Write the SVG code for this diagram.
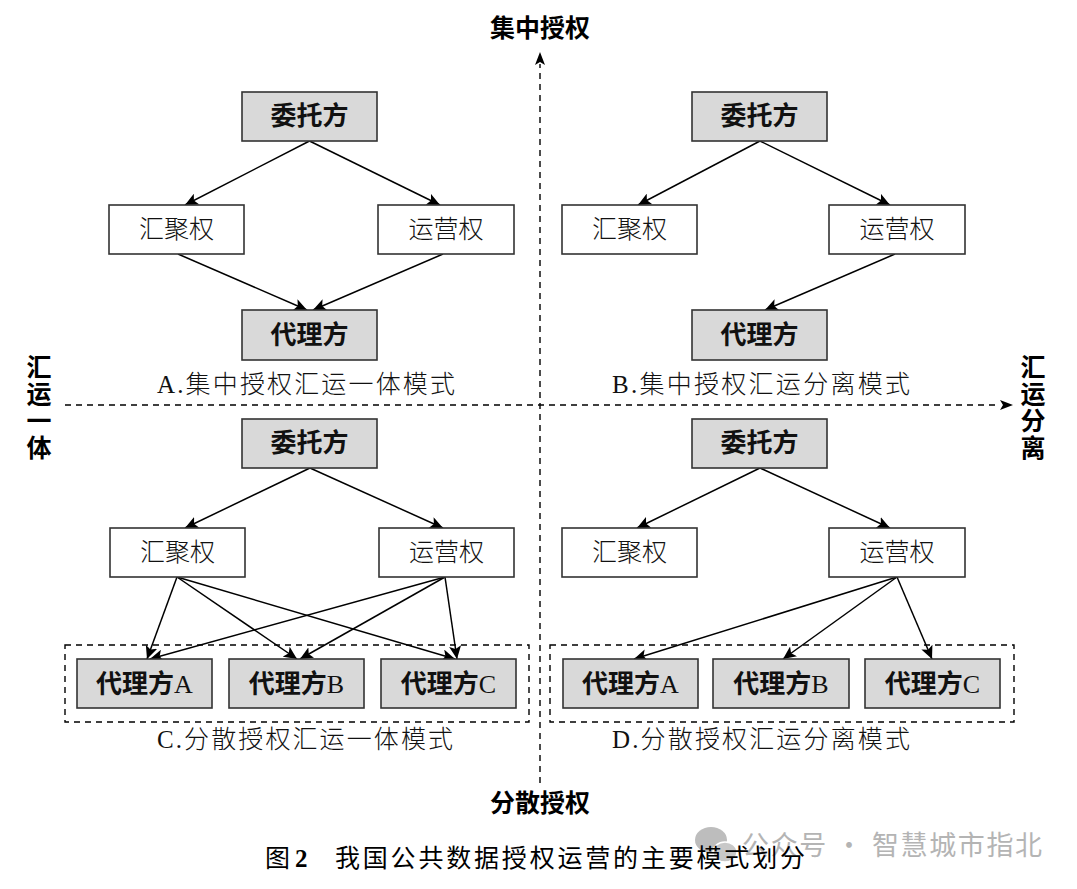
<svg xmlns="http://www.w3.org/2000/svg" width="1077" height="889" viewBox="0 0 1077 889">
<defs>
<marker id="ah" markerUnits="userSpaceOnUse" markerWidth="14" markerHeight="12" viewBox="0 0 14 12" refX="13" refY="6" orient="auto">
<path d="M0,0 L13,6 L0,12 L3,6 Z" fill="#000"/>
</marker>
</defs>
<style>
.g{fill:#d9d9d9;stroke:#333;stroke-width:1.6}
.w{fill:#fff;stroke:#333;stroke-width:1.6}
.bt{font-family:"Liberation Serif","Noto Sans CJK SC",sans-serif;font-weight:700;font-size:26px;text-anchor:middle;fill:#111}
.lat{font-weight:400}
.wt{font-family:"Noto Sans CJK SC",sans-serif;font-weight:300;font-size:25px;text-anchor:middle;fill:#111}
.lb{font-family:"Liberation Serif","Noto Sans CJK SC",serif;font-weight:300;font-size:25px;fill:#111}
.ax{font-family:"Noto Sans CJK SC",sans-serif;font-weight:700;font-size:25px;text-anchor:middle;fill:#000}
.axv{font-family:"Noto Sans CJK SC",sans-serif;font-weight:700;font-size:25px;fill:#000;writing-mode:vertical-rl;letter-spacing:2px}
.cn line{stroke:#000;stroke-width:1.5;marker-end:url(#ah)}
.dash{fill:none;stroke:#000;stroke-width:1.4;stroke-dasharray:6 5}
</style>
<rect width="1077" height="889" fill="#fff"/>

<g id="axes">
<line class="dash" x1="540" y1="783" x2="540" y2="64"/>
<path d="M540,52 L545,65 L540,62 L535,65 Z" fill="#000"/>
<line class="dash" x1="65" y1="405" x2="1000" y2="405"/>
<path d="M1013,405 L1000,400 L1003,405 L1000,410 Z" fill="#000"/>
<text class="ax" x="540" y="37">集中授权</text>
<text class="ax" x="540" y="812">分散授权</text>
<text class="axv" x="39" y="354">汇运一体</text>
<text class="axv" x="1033" y="354">汇运分离</text>
</g>

<g id="connectors" class="cn">
<line x1="309.5" y1="141" x2="185" y2="205"/>
<line x1="309.5" y1="141" x2="440" y2="205"/>
<line x1="178" y1="254" x2="307" y2="310"/>
<line x1="443" y1="254" x2="313" y2="310"/>
<line x1="760" y1="141" x2="638" y2="205"/>
<line x1="760" y1="141" x2="890" y2="205"/>
<line x1="895" y1="254" x2="765" y2="310"/>
<line x1="310" y1="468" x2="185" y2="528"/>
<line x1="310" y1="468" x2="443" y2="528"/>
<line x1="177" y1="577" x2="147" y2="659"/>
<line x1="177" y1="577" x2="297" y2="659"/>
<line x1="177" y1="577" x2="455" y2="659"/>
<line x1="445" y1="577" x2="150" y2="659"/>
<line x1="445" y1="577" x2="300" y2="659"/>
<line x1="445" y1="577" x2="457" y2="659"/>
<line x1="760" y1="468" x2="637" y2="528"/>
<line x1="760" y1="468" x2="890" y2="528"/>
<line x1="897" y1="577" x2="634" y2="659"/>
<line x1="897" y1="577" x2="783" y2="659"/>
<line x1="897" y1="577" x2="932" y2="659"/>
</g>

<g id="A-wtf"><rect class="g" x="242" y="92" width="135" height="49"/><text class="bt" x="309.5" y="125">委托方</text></g>
<g id="A-hj"><rect class="w" x="109" y="205" width="135" height="49"/><text class="wt" x="176.5" y="238">汇聚权</text></g>
<g id="A-yy"><rect class="w" x="378" y="205" width="136" height="49"/><text class="wt" x="446" y="238">运营权</text></g>
<g id="A-dl"><rect class="g" x="242" y="310" width="135" height="50"/><text class="bt" x="309.5" y="344">代理方</text></g>
<text class="lb" x="157" y="393" textLength="298" lengthAdjust="spacing">A.集中授权汇运一体模式</text>

<g id="B-wtf"><rect class="g" x="692" y="92" width="135" height="49"/><text class="bt" x="759.5" y="125">委托方</text></g>
<g id="B-hj"><rect class="w" x="562" y="205" width="135" height="49"/><text class="wt" x="629.5" y="238">汇聚权</text></g>
<g id="B-yy"><rect class="w" x="829" y="205" width="136" height="49"/><text class="wt" x="897" y="238">运营权</text></g>
<g id="B-dl"><rect class="g" x="692" y="310" width="135" height="50"/><text class="bt" x="759.5" y="344">代理方</text></g>
<text class="lb" x="612" y="393" textLength="298" lengthAdjust="spacing">B.集中授权汇运分离模式</text>

<g id="C-wtf"><rect class="g" x="242" y="419" width="135" height="49"/><text class="bt" x="309.5" y="452">委托方</text></g>
<g id="C-hj"><rect class="w" x="110" y="528" width="135" height="49"/><text class="wt" x="177.5" y="561">汇聚权</text></g>
<g id="C-yy"><rect class="w" x="379" y="528" width="135" height="49"/><text class="wt" x="446.5" y="561">运营权</text></g>
<g id="C-group"><rect class="dash" x="65" y="645" width="464" height="77"/></g>
<g id="C-dlA"><rect class="g" x="77" y="659" width="135" height="49"/><text class="bt" x="144.5" y="693">代理方<tspan class="lat">A</tspan></text></g>
<g id="C-dlB"><rect class="g" x="229" y="659" width="135" height="49"/><text class="bt" x="296.5" y="693">代理方<tspan class="lat">B</tspan></text></g>
<g id="C-dlC"><rect class="g" x="381" y="659" width="135" height="49"/><text class="bt" x="448.5" y="693">代理方<tspan class="lat">C</tspan></text></g>
<text class="lb" x="157" y="748" textLength="296" lengthAdjust="spacing">C.分散授权汇运一体模式</text>

<g id="D-wtf"><rect class="g" x="692" y="419" width="135" height="49"/><text class="bt" x="759.5" y="452">委托方</text></g>
<g id="D-hj"><rect class="w" x="562" y="528" width="135" height="49"/><text class="wt" x="629.5" y="561">汇聚权</text></g>
<g id="D-yy"><rect class="w" x="829" y="528" width="136" height="49"/><text class="wt" x="897" y="561">运营权</text></g>
<g id="D-group"><rect class="dash" x="550" y="645" width="464" height="77"/></g>
<g id="D-dlA"><rect class="g" x="563" y="659" width="135" height="49"/><text class="bt" x="630.5" y="693">代理方<tspan class="lat">A</tspan></text></g>
<g id="D-dlB"><rect class="g" x="713" y="659" width="136" height="49"/><text class="bt" x="781" y="693">代理方<tspan class="lat">B</tspan></text></g>
<g id="D-dlC"><rect class="g" x="865" y="659" width="135" height="49"/><text class="bt" x="932.5" y="693">代理方<tspan class="lat">C</tspan></text></g>
<text class="lb" x="612" y="748" textLength="298" lengthAdjust="spacing">D.分散授权汇运分离模式</text>

<g id="watermark">
<ellipse cx="711" cy="840" rx="16" ry="13" fill="#bdbdbd"/>
<ellipse cx="725" cy="852" rx="12" ry="10" fill="#c8c8c8" stroke="#fff" stroke-width="1.5"/>
<text x="742" y="855" font-family="'Noto Sans CJK SC',sans-serif" font-size="27" fill="#b4b4b4" textLength="300" lengthAdjust="spacing">公众号 · 智慧城市指北</text>
</g>

<g id="caption">
<text x="265" y="867" font-family="'Noto Sans CJK SC',sans-serif" font-size="25" fill="#000">图</text>
<text x="295" y="867" font-family="'Liberation Serif',serif" font-weight="700" font-size="25" fill="#000">2</text>
<text x="335" y="867" font-family="'Noto Sans CJK SC',sans-serif" font-size="25" fill="#000" textLength="470" lengthAdjust="spacing">我国公共数据授权运营的主要模式划分</text>
</g>
</svg>
